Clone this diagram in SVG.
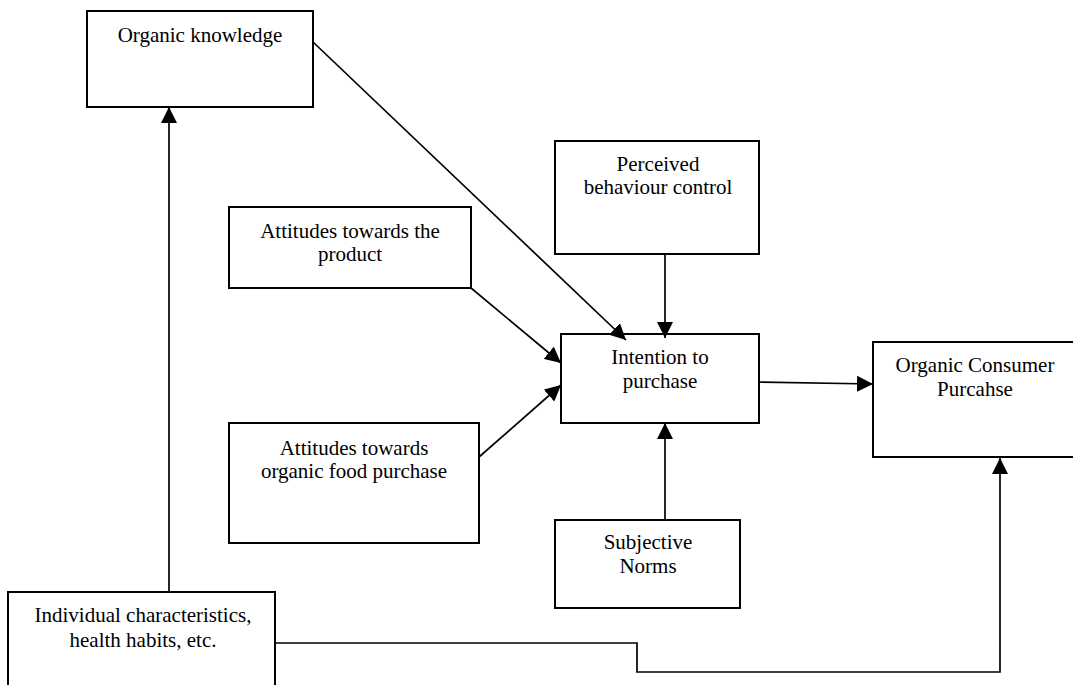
<svg xmlns="http://www.w3.org/2000/svg" width="1073" height="685" viewBox="0 0 1073 685">
<style>
.box{fill:#fff;stroke:#000;stroke-width:2}
.lbl{font-family:'Liberation Serif',Tinos,'Times New Roman',Times,'DejaVu Serif',serif;font-size:21px;fill:#000;text-anchor:middle}
.con{fill:none;stroke:#000;stroke-width:1.7}
.arr{marker-end:url(#ah)}
</style>
<defs>
<marker id="ah" markerUnits="userSpaceOnUse" markerWidth="16" markerHeight="16" refX="16" refY="8" orient="auto">
<path d="M0,0 L16,8 L0,16 z" fill="#000"/>
</marker>
</defs>
<rect width="1073" height="685" fill="#fff"/>
<g id="n-organic-knowledge">
<rect class="box" x="87" y="11" width="226" height="96"/>
<text class="lbl" x="200" y="42">Organic knowledge</text>
</g>
<g id="n-perceived">
<rect class="box" x="555" y="141" width="204" height="113"/>
<text class="lbl" x="658" y="171">Perceived</text>
<text class="lbl" x="658" y="194">behaviour control</text>
</g>
<g id="n-attitudes-product">
<rect class="box" x="229" y="207" width="242" height="81"/>
<text class="lbl" x="350" y="238">Attitudes towards the</text>
<text class="lbl" x="350" y="261">product</text>
</g>
<g id="n-intention">
<rect class="box" x="561" y="334" width="198" height="89"/>
<text class="lbl" x="660" y="364">Intention to</text>
<text class="lbl" x="660" y="388">purchase</text>
</g>
<g id="n-attitudes-food">
<rect class="box" x="229" y="423" width="250" height="120"/>
<text class="lbl" x="354" y="455">Attitudes towards</text>
<text class="lbl" x="354" y="478">organic food purchase</text>
</g>
<g id="n-organic-consumer">
<rect class="box" x="873" y="342" width="210" height="115"/>
<text class="lbl" x="975" y="372">Organic Consumer</text>
<text class="lbl" x="975" y="396">Purcahse</text>
</g>
<g id="n-subjective">
<rect class="box" x="555" y="520" width="185" height="88"/>
<text class="lbl" x="648" y="549">Subjective</text>
<text class="lbl" x="648" y="573">Norms</text>
</g>
<g id="n-individual">
<rect class="box" x="8" y="592" width="267" height="100"/>
<text class="lbl" x="143" y="622">Individual characteristics,</text>
<text class="lbl" x="143" y="647">health habits, etc.</text>
</g>
<g id="connectors">
<line class="con arr" x1="169" y1="592" x2="169" y2="107"/>
<line class="con arr" x1="313" y1="42" x2="626" y2="340"/>
<line class="con arr" x1="665" y1="254" x2="665" y2="338"/>
<line class="con arr" x1="471" y1="288" x2="561" y2="363"/>
<line class="con arr" x1="479" y1="457" x2="561" y2="385"/>
<line class="con arr" x1="759" y1="382" x2="873" y2="384"/>
<line class="con arr" x1="665" y1="520" x2="665" y2="423"/>
<polyline class="con arr" points="275,643 637,643 637,672 1000,672 1000,458"/>
</g>
</svg>
